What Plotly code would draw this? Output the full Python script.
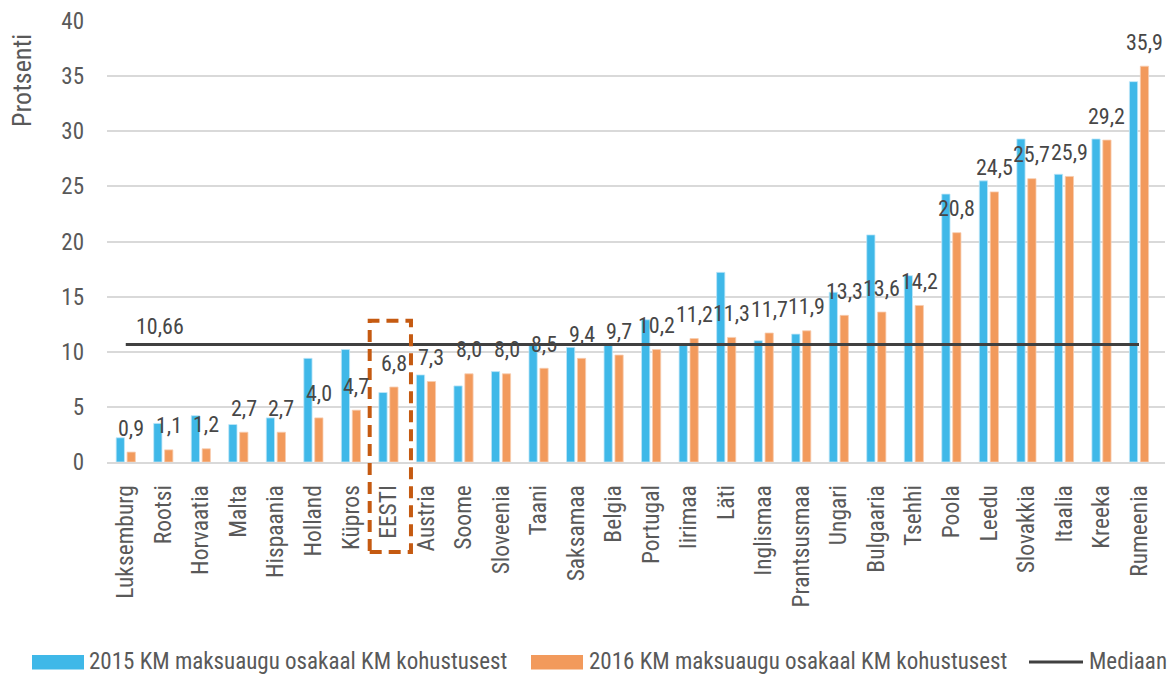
import plotly.graph_objects as go

countries = ["Luksemburg", "Rootsi", "Horvaatia", "Malta", "Hispaania", "Holland", "Küpros",
             "EESTI", "Austria", "Soome", "Sloveenia", "Taani", "Saksamaa", "Belgia", "Portugal",
             "Iirimaa", "Läti", "Inglismaa", "Prantsusmaa", "Ungari", "Bulgaaria", "Tsehhi",
             "Poola", "Leedu", "Slovakkia", "Itaalia", "Kreeka", "Rumeenia"]
gap_2015 = [2.2, 3.5, 4.2, 3.4, 4.0, 9.4, 10.2, 6.3, 7.9, 6.9, 8.2, 10.6, 10.4, 10.6, 12.9,
            10.7, 17.2, 11.0, 11.6, 15.4, 20.6, 16.9, 24.3, 25.5, 29.3, 26.1, 29.3, 34.5]
gap_2016 = [0.9, 1.1, 1.2, 2.7, 2.7, 4.0, 4.7, 6.8, 7.3, 8.0, 8.0, 8.5, 9.4, 9.7, 10.2,
            11.2, 11.3, 11.7, 11.9, 13.3, 13.6, 14.2, 20.8, 24.5, 25.7, 25.9, 29.2, 35.9]
median = 10.66
y_ticks = [0, 5, 10, 15, 20, 25, 30, 35, 40]
name_2015 = "2015 KM maksuaugu osakaal KM kohustusest"
name_2016 = "2016 KM maksuaugu osakaal KM kohustusest"
name_median = "Mediaan"

FONT = "Roboto Condensed, Liberation Sans Narrow, DejaVu Sans Condensed, Roboto, sans-serif"
BLUE = "#3FB8E8"
ORANGE = "#F29A5C"
DARK = "#404040"
LABEL = "#474747"
TXT = "#595959"

W, H = 1172, 675
ML, MR, MT, MB = 107, 7, 21, 213
PW, PH = W - ML - MR, H - MT - MB


def px(x):  # pixel -> paper x
    return (x - ML) / PW


def py(y):  # pixel -> paper y
    return (H - MB - y) / PH


fig = go.Figure()
fig.add_trace(go.Bar(x=countries, y=gap_2015, name=name_2015,
                     marker=dict(color=BLUE, line=dict(color="#BFE6F7", width=0.8))))
fig.add_trace(go.Bar(x=countries, y=gap_2016, name=name_2016,
                     marker=dict(color=ORANGE, line=dict(color="#F8CDB0", width=0.8))))
fig.add_trace(go.Scatter(x=countries, y=[median] * len(countries), mode="lines", name=name_median,
                         line=dict(color=DARK, width=3)))

# data labels for 2016 series
for c, v in zip(countries, gap_2016):
    fig.add_annotation(x=c, y=v, text=f"{v:.1f}".replace(".", ","), showarrow=False,
                       xshift=5.5, yshift=24, font=dict(family=FONT, size=22, color=LABEL))

fig.add_annotation(x=countries[0], y=median, text=f"{median:.2f}".replace(".", ","),
                   showarrow=False, xshift=34, yshift=18,
                   font=dict(family=FONT, size=22, color=LABEL))

fig.add_annotation(xref="paper", yref="paper", x=px(22.5), y=py(80.5), text="Protsenti",
                   textangle=-90, showarrow=False, xanchor="center", yanchor="middle",
                   font=dict(family=FONT, size=26, color=TXT))

# EESTI highlight box
fig.add_shape(type="rect", xref="x", yref="paper", x0=6.5, x1=7.6, y0=py(552), y1=py(320.8),
              line=dict(color="#C55A11", width=4, dash="12px,7px"), layer="above")

# legend (drawn manually to match the reference layout)
fig.add_shape(type="rect", xref="paper", yref="paper", x0=px(32), x1=px(84), y0=py(669.5),
              y1=py(655), fillcolor=BLUE, line=dict(width=0))
fig.add_shape(type="rect", xref="paper", yref="paper", x0=px(531), x1=px(583), y0=py(669.5),
              y1=py(655), fillcolor=ORANGE, line=dict(width=0))
fig.add_shape(type="line", xref="paper", yref="paper", x0=px(1029), x1=px(1083), y0=py(662),
              y1=py(662), line=dict(color=DARK, width=3))
for xpix, txt in [(86.5, name_2015), (586.5, name_2016), (1086.5, name_median)]:
    fig.add_annotation(xref="paper", yref="paper", x=px(xpix), y=py(661.5), text=txt,
                       showarrow=False, xanchor="left", yanchor="middle",
                       font=dict(family=FONT, size=23, color=TXT))

fig.update_layout(
    width=W, height=H,
    margin=dict(l=ML, r=MR, t=MT, b=MB),
    plot_bgcolor="white", paper_bgcolor="white",
    barmode="group", bargap=0.418, bargroupgap=0.245,
    font=dict(family=FONT, size=20, color=TXT),
    showlegend=False,
    xaxis=dict(tickangle=-90, showgrid=False, showline=True, linecolor="#D9D9D9", linewidth=1.5,
               ticks="", tickfont=dict(family=FONT, size=23.5, color=TXT),
               ticklabelstandoff=12, automargin=False),
    yaxis=dict(range=[0, 40], tickvals=y_ticks, showgrid=True, gridcolor="#D9D9D9",
               gridwidth=1.5, zeroline=False, showline=False, ticks="",
               tickfont=dict(family=FONT, size=23, color=TXT), ticklabelstandoff=22,
               automargin=False),
)

fig.write_html("out.html", config={"displayModeBar": False},
               post_script="document.body.style.margin='0';document.body.style.padding='0';")
